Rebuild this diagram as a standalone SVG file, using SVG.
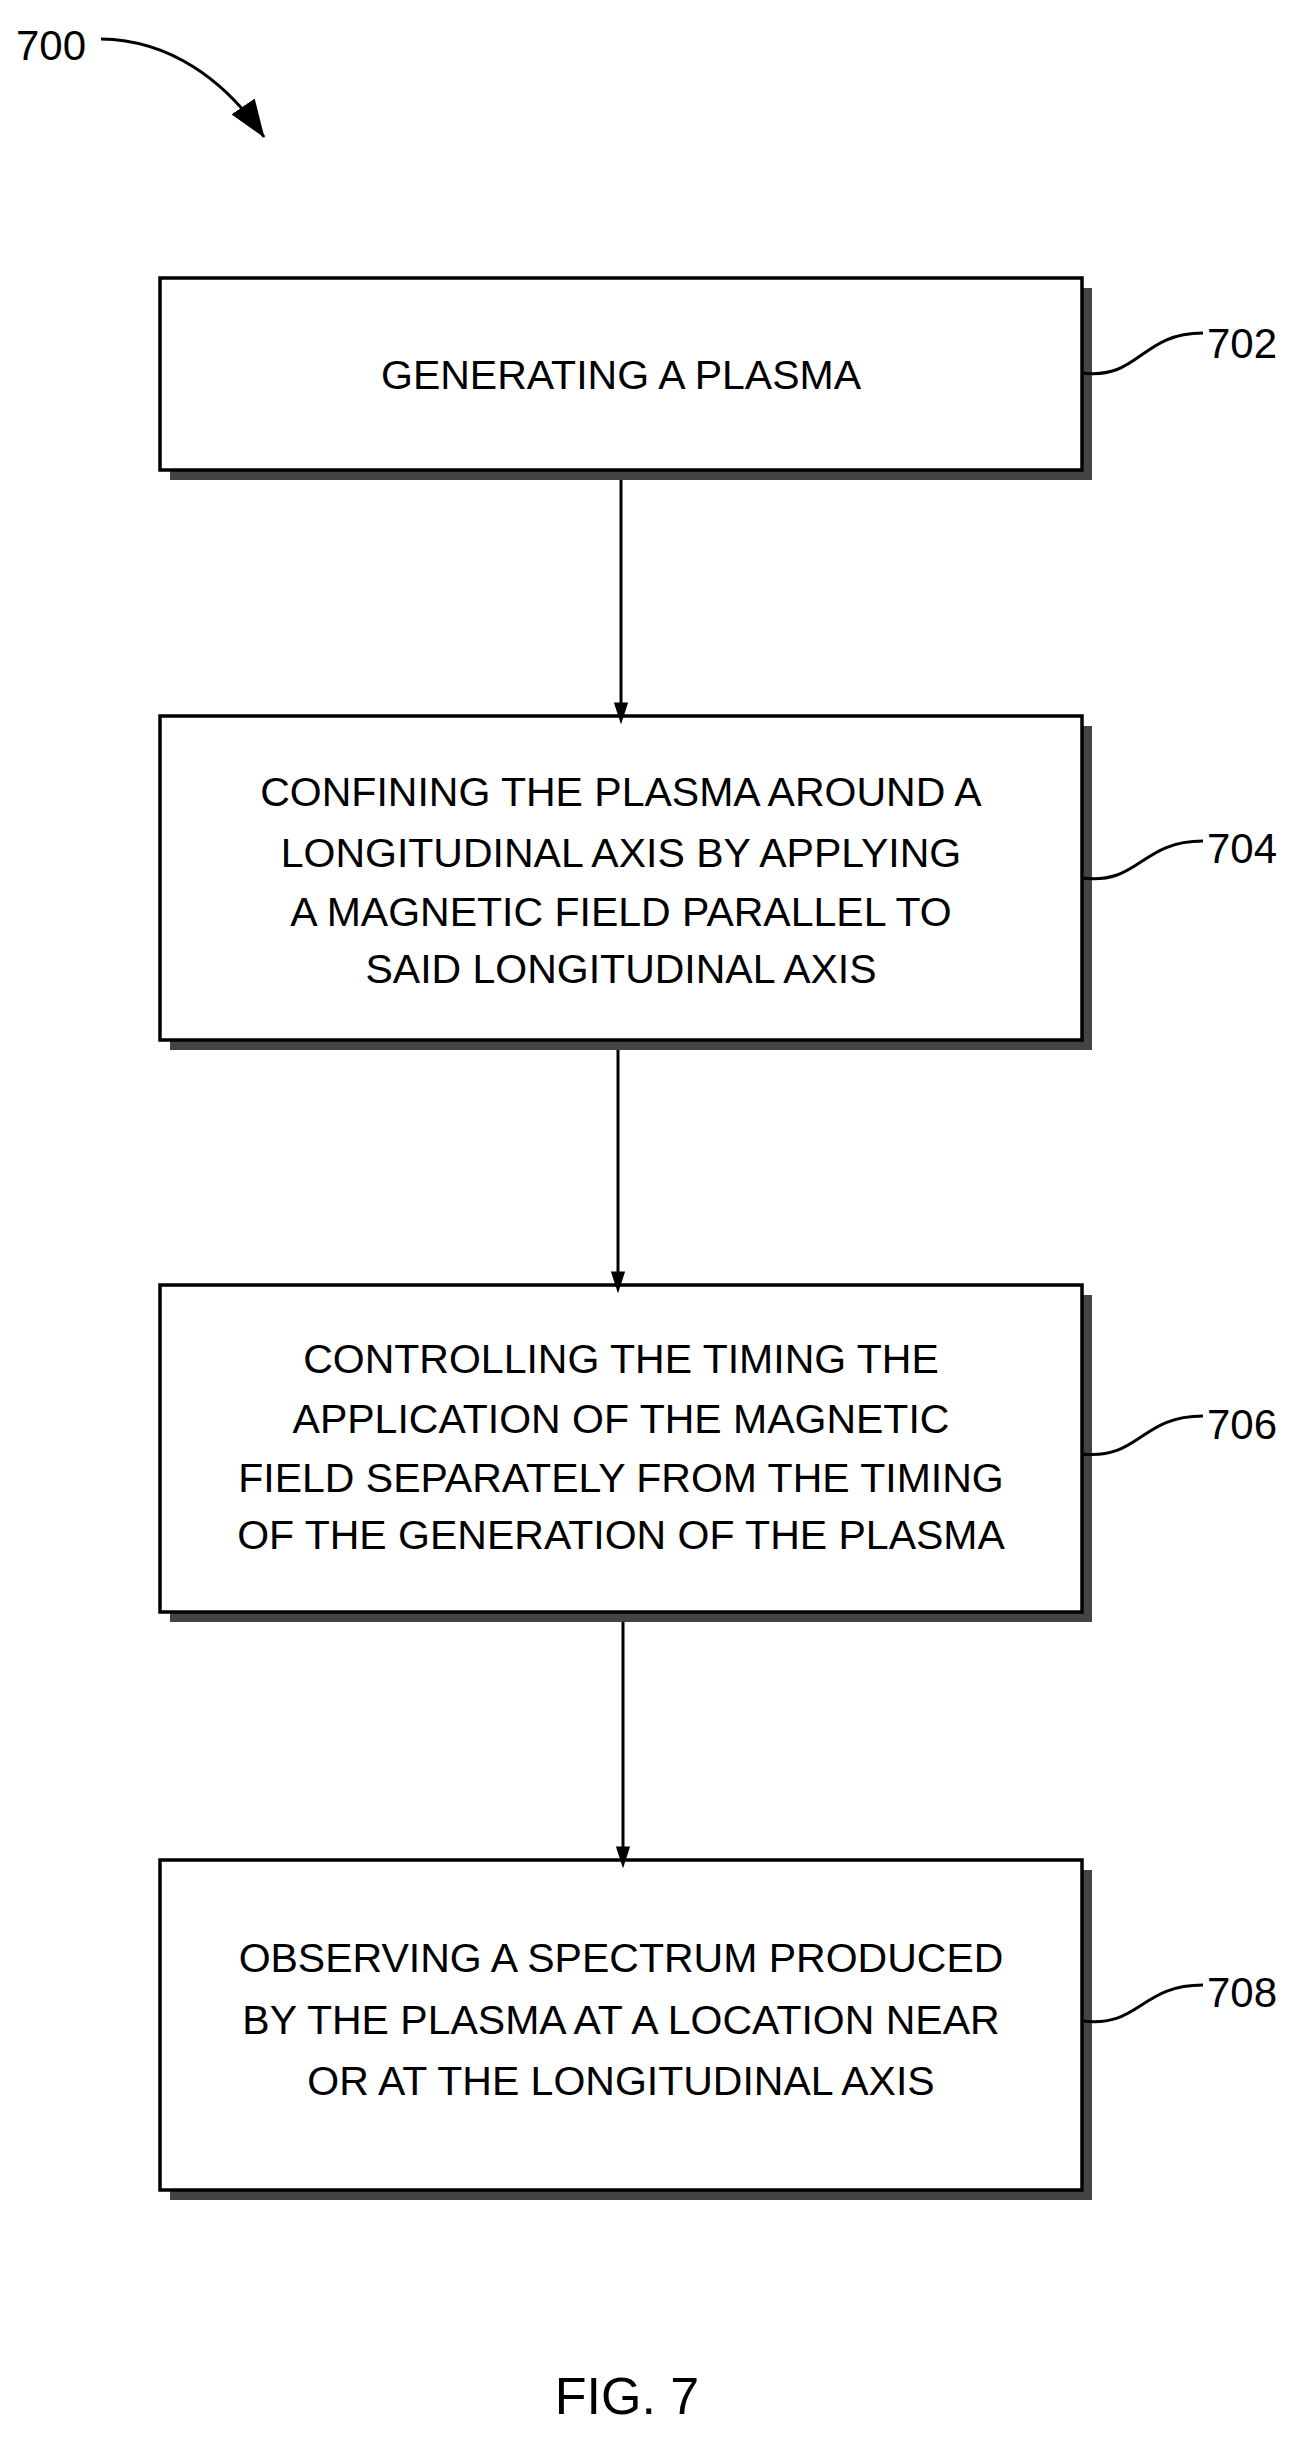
<svg xmlns="http://www.w3.org/2000/svg" width="1302" height="2443" viewBox="0 0 1302 2443">
<style>
.box{fill:#fff;stroke:#000;stroke-width:3.5}
.sh{fill:#444}
.t{font-family:"Liberation Sans",Arial,sans-serif;font-size:41px;text-anchor:middle;fill:#000}
.lbl{font-family:"Liberation Sans",Arial,sans-serif;font-size:42px;fill:#000}
.ln{fill:none;stroke:#000;stroke-width:3}
</style>
<defs>
<marker id="ah" markerWidth="22" markerHeight="34" refX="21" refY="11" orient="auto" markerUnits="userSpaceOnUse" viewBox="0 0 34 22">
<path d="M0,0 L34,11 L0,22 Z" fill="#000"/>
</marker>
<marker id="ah2" markerWidth="38" markerHeight="28" refX="37" refY="14" orient="auto" markerUnits="userSpaceOnUse" viewBox="0 0 38 28">
<path d="M0,0 L38,14 L0,28 Z" fill="#000"/>
</marker>
</defs>
<g id="label700">
<text class="lbl" x="16" y="60">700</text>
<path class="ln" d="M101,39 C170,40 225,80 264,137" marker-end="url(#ah2)"/>
</g>
<g id="n702">
<rect class="sh" x="170" y="288" width="922" height="192"/>
<rect class="box" x="160" y="278" width="922" height="192"/>
<text class="t" x="621" y="389">GENERATING A PLASMA</text>
<path class="ln" d="M1082,373 C1140,380 1140,333 1203,333"/>
<text class="lbl" x="1207" y="358">702</text>
</g>
<g id="n704">
<rect class="sh" x="170" y="726" width="922" height="324"/>
<rect class="box" x="160" y="716" width="922" height="324"/>
<text class="t" x="621" y="806">CONFINING THE PLASMA AROUND A</text>
<text class="t" x="621" y="867">LONGITUDINAL AXIS BY APPLYING</text>
<text class="t" x="621" y="926">A MAGNETIC FIELD PARALLEL TO</text>
<text class="t" x="621" y="983">SAID LONGITUDINAL AXIS</text>
<path class="ln" d="M1082,878 C1140,885 1140,841 1203,841"/>
<text class="lbl" x="1207" y="863">704</text>
</g>
<g id="n706">
<rect class="sh" x="170" y="1295" width="922" height="327"/>
<rect class="box" x="160" y="1285" width="922" height="327"/>
<text class="t" x="621" y="1373">CONTROLLING THE TIMING THE</text>
<text class="t" x="621" y="1433">APPLICATION OF THE MAGNETIC</text>
<text class="t" x="621" y="1492">FIELD SEPARATELY FROM THE TIMING</text>
<text class="t" x="621" y="1549">OF THE GENERATION OF THE PLASMA</text>
<path class="ln" d="M1082,1454 C1140,1460 1140,1416 1203,1416"/>
<text class="lbl" x="1207" y="1439">706</text>
</g>
<g id="n708">
<rect class="sh" x="170" y="1870" width="922" height="330"/>
<rect class="box" x="160" y="1860" width="922" height="330"/>
<text class="t" x="621" y="1972">OBSERVING A SPECTRUM PRODUCED</text>
<text class="t" x="621" y="2034">BY THE PLASMA AT A LOCATION NEAR</text>
<text class="t" x="621" y="2095">OR AT THE LONGITUDINAL AXIS</text>
<path class="ln" d="M1082,2021 C1140,2028 1140,1985 1203,1985"/>
<text class="lbl" x="1207" y="2007">708</text>
</g>
<g id="connectors">
<line class="ln" x1="621" y1="480" x2="621" y2="716" marker-end="url(#ah)"/>
<line class="ln" x1="618" y1="1050" x2="618" y2="1285" marker-end="url(#ah)"/>
<line class="ln" x1="623" y1="1622" x2="623" y2="1860" marker-end="url(#ah)"/>
</g>
<text class="t" x="627" y="2414" style="font-size:52px">FIG. 7</text>
</svg>
